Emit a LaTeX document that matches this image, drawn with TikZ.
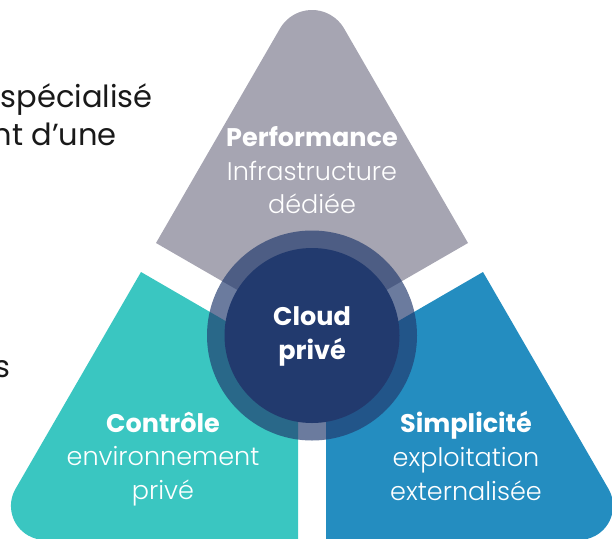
\documentclass[tikz,border=0pt]{standalone}
\usepackage{fontspec}
\setmainfont{Poppins}
\newfontfamily\lightfont{Poppins Light}
\definecolor{perfgray}{HTML}{A6A5B2}
\definecolor{ctrlteal}{HTML}{3AC6C1}
\definecolor{simpblue}{HTML}{248DC0}
\definecolor{cloudnavy}{HTML}{223A6E}
\begin{document}
\begin{tikzpicture}[x=1pt,y=-1pt,
    head/.style={text=white,font=\fontsize{25.5}{30}\selectfont\bfseries,anchor=base,inner sep=0pt},
    sub/.style={text=white,font=\fontsize{25.5}{30}\selectfont\lightfont,anchor=base,inner sep=0pt},
    slide/.style={text=black!90,font=\fontsize{30.5}{36}\selectfont,anchor=base east,inner sep=0pt}]
    \useasboundingbox (0,0) rectangle (612,538);
    \coordinate (c) at (312,335.5);
        \fill[perfgray] (312,333) -- (156,243) -- (280,28.5) arc[start angle=210,end angle=330,radius=37] -- (468,243) -- cycle;
        \fill[ctrlteal] (298,363) -- (141,272) -- (15.5,488.9) arc[start angle=210,end angle=90,radius=34] -- (298,540) -- cycle;
        \fill[simpblue] (326,363) -- (483,272) -- (608.5,488.9) arc[start angle=-30,end angle=90,radius=34] -- (326,540) -- cycle;
        \fill[cloudnavy,opacity=.67] (c) circle [radius=105pt];
        \fill[cloudnavy] (c) circle [radius=87.5pt];
        \node[slide] (slidea) at (153,107) {spécialisé};
        \node[slide] (slideb) at (117,145) {nt d’une};
        \node[slide] (slidec) at (11,377) {s};
        \node[head] (perf) at (312,146) {Performance};
        \node[sub] (perfa) at (312,180) {Infrastructure};
        \node[sub] (perfb) at (312,213) {dédiée};
        \node[head] (cloud) at (312,325) {Cloud};
        \node[head] (cloudb) at (312,359) {privé};
        \node[head] (ctrl) at (163,432) {Contrôle};
        \node[sub] (ctrla) at (163,465) {environnement};
        \node[sub] (ctrlb) at (163,499) {privé};
        \node[head] (simp) at (466,432) {Simplicité};
        \node[sub] (simpa) at (466,466) {exploitation};
        \node[sub] (simpb) at (466,500) {externalisée};
    \end{tikzpicture}
\end{document}
